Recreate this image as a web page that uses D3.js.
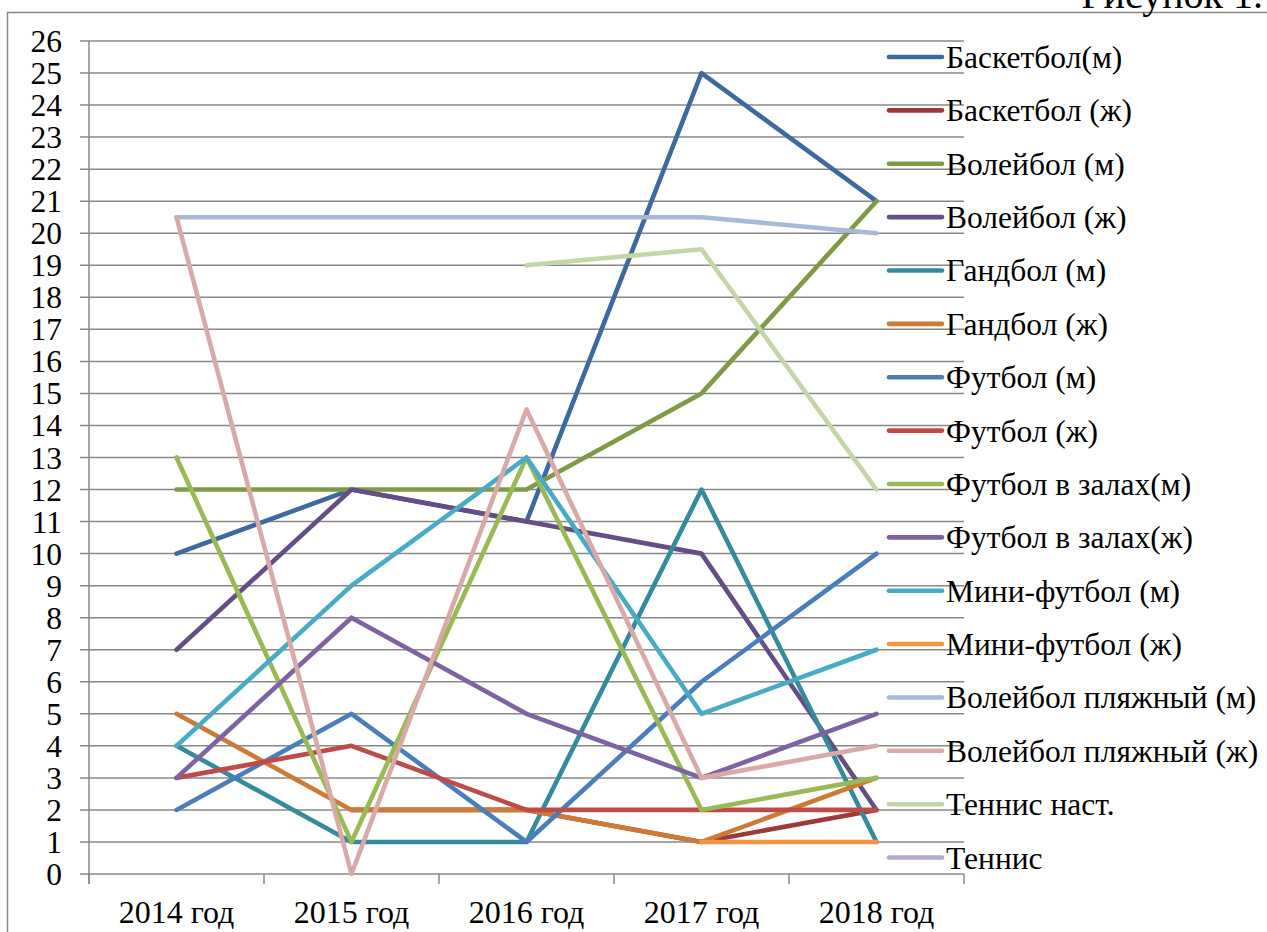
<!DOCTYPE html>
<html>
  <head>
    <meta charset="utf-8">
    <script src="https://d3js.org/d3.v7.min.js"></script>
    <style>
      body { margin: 0; background: white; }
      svg text { font-family: 'Liberation Serif', 'Times New Roman', serif; fill: #000; }
      .grid line { stroke: #888; stroke-width: 1.5px; }
      .series { fill: none; stroke-width: 4.6px; stroke-linejoin: round; stroke-linecap: round; }
    </style>
  </head>
  <body>
    <div id="chart"></div>
<script>

// ---------- DATA -----------
var years = ["2014 год", "2015 год", "2016 год", "2017 год", "2018 год"];
var yTicks = d3.range(0, 27);

var names = [
  "Баскетбол(м)", "Баскетбол (ж)", "Волейбол (м)", "Волейбол (ж)",
  "Гандбол (м)", "Гандбол (ж)", "Футбол (м)", "Футбол (ж)",
  "Футбол в залах(м)", "Футбол в залах(ж)", "Мини-футбол (м)", "Мини-футбол (ж)",
  "Волейбол пляжный (м)", "Волейбол пляжный (ж)", "Теннис наст.", "Теннис"
];

var basketM   = [10, 12, 11, 25, 21];
var basketW   = [null, 2, 2, 1, 2];
var volleyM   = [12, 12, 12, 15, 21];
var volleyW   = [7, 12, 11, 10, 2];
var handM     = [4, 1, 1, 12, 1];
var handW     = [5, 2, 2, 1, 3];
var footM     = [2, 5, 1, 6, 10];
var footW     = [3, 4, 2, 2, 2];
var indoorM   = [13, 1, 13, 2, 3];
var indoorW   = [3, 8, 5, 3, 5];
var miniM     = [4, 9, 13, 5, 7];
var miniW     = [null, null, null, 1, 1];
var beachM    = [20.5, 20.5, 20.5, 20.5, 20];
var beachW    = [20.5, 0, 14.5, 3, 4];
var tableTen  = [null, null, 19, 19.5, 12];
var tennis    = [null, null, null, null, null];

var values = [basketM, basketW, volleyM, volleyW, handM, handW, footM, footW,
              indoorM, indoorW, miniM, miniW, beachM, beachW, tableTen, tennis];

var colors = ["#3d6a9e", "#9c3a39", "#7f9a45", "#654e86", "#368a9e", "#cc7a35",
              "#4a7ebb", "#be4b48", "#98b954", "#7e62a1", "#47abc6", "#f69541",
              "#a7b9d8", "#d9a9a7", "#c4d6a6", "#b6a8c9"];

// ---------- CHART -----------
var width = 1267, height = 932;

var svg = d3.select("#chart").append("svg")
  .attr("width", width)
  .attr("height", height);

// outer frame
svg.append("rect")
  .attr("x", 7.5).attr("y", 12.5)
  .attr("width", 1300).attr("height", 1000)
  .attr("fill", "none")
  .attr("stroke", "#888")
  .attr("stroke-width", 1.5);

// caption, cut by the page top like in the source
svg.append("text")
  .attr("x", 1263).attr("y", 8)
  .attr("text-anchor", "end")
  .style("font-size", "40px")
  .text("Рисунок 1.");

var x = d3.scaleBand().domain(years).range([89, 964]);
var y = d3.scaleLinear().domain([0, 26]).range([874, 41]);

// horizontal grid + left ticks
var grid = svg.append("g").attr("class", "grid");
grid.selectAll("line")
  .data(yTicks)
  .enter().append("line")
  .attr("x1", 80).attr("x2", 964)
  .attr("y1", function(d) { return y(d); })
  .attr("y2", function(d) { return y(d); });

// y axis line
grid.append("line")
  .attr("x1", 89).attr("x2", 89)
  .attr("y1", y(26)).attr("y2", y(0) + 10);

// x tick marks at band edges
grid.selectAll(".xtick")
  .data(years.concat([null]))
  .enter().append("line")
  .attr("class", "xtick")
  .attr("x1", function(d, i) { return 89 + i * x.bandwidth(); })
  .attr("x2", function(d, i) { return 89 + i * x.bandwidth(); })
  .attr("y1", y(0)).attr("y2", y(0) + 10);

svg.append("g").selectAll("text")
  .data(yTicks)
  .enter().append("text")
  .attr("x", 62)
  .attr("y", function(d) { return y(d) + 11; })
  .attr("text-anchor", "end")
  .style("font-size", "31.5px")
  .text(function(d) { return d; });

svg.append("g").selectAll("text")
  .data(years)
  .enter().append("text")
  .attr("x", function(d) { return x(d) + x.bandwidth() / 2; })
  .attr("y", 923)
  .attr("text-anchor", "middle")
  .style("font-size", "32px")
  .text(function(d) { return d; });

// series
var line = d3.line()
  .defined(function(d) { return d != null; })
  .x(function(d, i) { return x(years[i]) + x.bandwidth() / 2; })
  .y(function(d) { return y(d); });

svg.append("g").selectAll("path")
  .data(values)
  .enter().append("path")
  .attr("class", "series")
  .attr("stroke", function(d, i) { return colors[i]; })
  .attr("d", line);

// legend
var legend = svg.append("g").selectAll("g")
  .data(names)
  .enter().append("g")
  .attr("transform", function(d, i) { return "translate(0," + (57 + i * 53.37) + ")"; });

legend.append("line")
  .attr("x1", 889).attr("x2", 942)
  .attr("stroke", function(d, i) { return colors[i]; })
  .attr("stroke-width", 4.6)
  .attr("stroke-linecap", "round");

legend.append("text")
  .attr("x", 946).attr("y", 11)
  .style("font-size", "31.5px")
  .text(function(d) { return d; });

</script>
  </body>
</html>
